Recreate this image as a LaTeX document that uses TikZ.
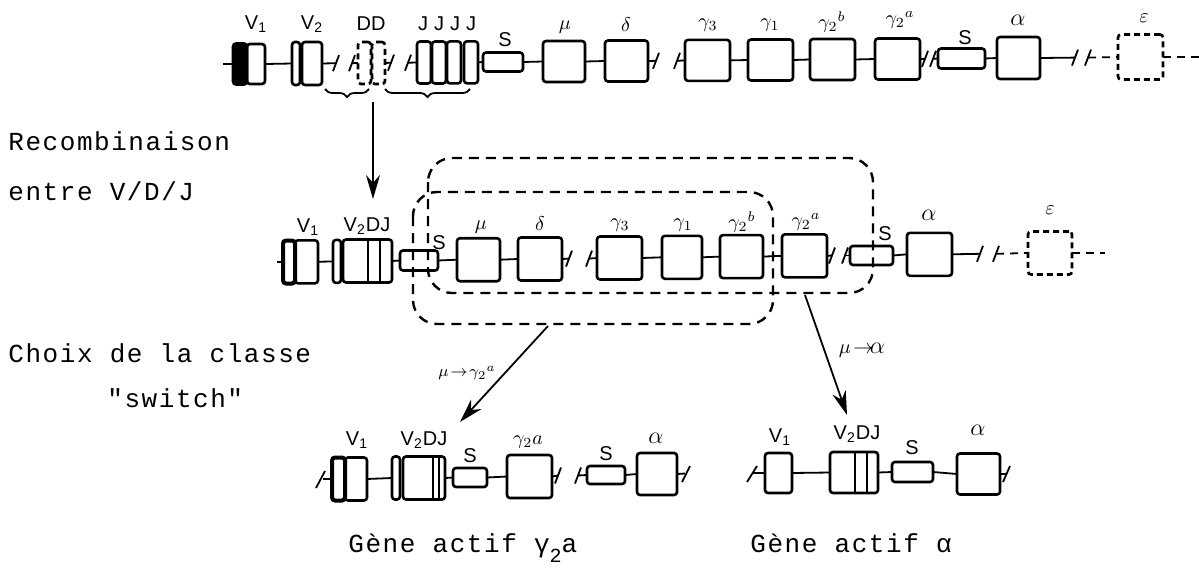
\documentclass[tikz,border=0pt]{standalone}
\usepackage{fontspec}
\setmainfont{Liberation Sans}
\newfontfamily\tw[LetterSpace=6]{Liberation Mono}
\usetikzlibrary{arrows.meta,decorations.pathreplacing}
\tikzset{
 bx/.style 2 args={draw, line width=1.3pt, rounded corners=1.5pt, minimum width=#1*0.5pt, minimum height=#2*0.5pt, inner sep=0pt, outer sep=0pt},
 dbx/.style 2 args={bx={#1}{#2}, dash pattern=on 3pt off 2pt},
 lk/.style={line width=0.9pt},
 dlk/.style={line width=0.9pt, dash pattern=on 4pt off 3pt},
 grp/.style={line width=1.2pt, dash pattern=on 5pt off 3.5pt, rounded corners=12pt},
 arr/.style={line width=0.9pt, -{Stealth[length=12pt,width=7pt]}},
 lab/.style={font=\fontsize{10}{12}\selectfont, inner sep=0pt},
 sm/.style={font=\fontsize{8}{10}\selectfont, inner sep=0pt},
 txt/.style={font=\tw\fontsize{13}{15}\selectfont, inner sep=0pt, anchor=base west},
}
\newcommand\brk[4]{%
  \coordinate (#1a) at (#2,#4);
  \coordinate (#1b) at (#3,#4);
  \draw[lk] ({#2-3},{#4+8}) -- ({#2+3},{#4-8});
  \draw[lk] ({#3-3},{#4+8}) -- ({#3+3},{#4-8});
}
\newcommand\vln[3]{\draw[line width=1.3pt] (#1.north west) ++(#2,0) -- ++(0,#3);}
\begin{document}
\begin{tikzpicture}[x=0.5pt,y=-0.5pt]
\useasboundingbox (0,0) rectangle (1199,568);
% ---------- left texts
\node[txt] (t1) at (8,150) {Recombinaison};
\node[txt] (t2) at (8,200) {entre V/D/J};
\node[txt] (t3) at (8,362) {Choix de la classe};
\node[txt] (t4) at (107,407) {"switch"};
% ---------- top row
\coordinate (t-start) at (223,64);
\node[bx={14}{41}, fill=black] (t-blk) at (240,64) {};
\node[bx={18}{40}] (t-v1) at (256,64) {};
\node[bx={8}{43}] (t-v2n) at (296,63.5) {};
\node[bx={20}{43}] (t-v2) at (312,63.5) {};
\node[dbx={13}{42}] (t-d1) at (364.5,63) {};
\node[dbx={13}{42}] (t-d2) at (378.5,63) {};
\node[bx={14}{42}] (t-j1) at (424,62.5) {};
\node[bx={14}{42}] (t-j2) at (439,62.5) {};
\node[bx={14}{42}] (t-j3) at (454,62.4) {};
\node[bx={14}{42}] (t-j4) at (471,62.3) {};
\node[bx={40}{19}] (t-s1) at (503,62) {};
\node[bx={42}{41}] (t-mu) at (564,61.5) {};
\node[bx={43}{41}] (t-de) at (626.5,61) {};
\node[bx={45}{41}] (t-g3) at (707.5,60.4) {};
\node[bx={45}{41}] (t-g1) at (770.5,60) {};
\node[bx={45}{41}] (t-g2b) at (832.5,59.5) {};
\node[bx={45}{41}] (t-g2a) at (897.5,59) {};
\node[bx={47}{20}] (t-s2) at (961.5,58.5) {};
\node[bx={43}{42}] (t-al) at (1018.5,58) {};
\node[dbx={45}{45}] (t-ep) at (1140.5,57) {};
\coordinate (t-end) at (1199,57);
\draw[lk] (t-start) -- (t-blk.west);
\draw[lk] (t-v1.east) -- (t-v2n.west);
\brk{t-b1}{336}{352}{63.2}
\draw[lk] (t-v2.east) -- (t-b1a);
\draw[lk] (t-b1b) -- (t-d1.west);
\brk{t-b2}{391}{408}{62.7}
\draw[lk] (t-d2.east) -- (t-b2a);
\draw[lk] (t-b2b) -- (t-j1.west);
\draw[lk] (t-j4.east) -- (t-s1.west);
\draw[lk] (t-s1.east) -- (t-mu.west);
\draw[lk] (t-mu.east) -- (t-de.west);
\brk{t-b3}{656}{677}{60.8}
\draw[lk] (t-de.east) -- (t-b3a);
\draw[lk] (t-b3b) -- (t-g3.west);
\draw[lk] (t-g3.east) -- (t-g1.west);
\draw[lk] (t-g1.east) -- (t-g2b.west);
\draw[lk] (t-g2b.east) -- (t-g2a.west);
\brk{t-b4}{925}{933}{58.8}
\draw[lk] (t-g2a.east) -- (t-b4a);
\draw[lk] (t-b4b) -- (t-s2.west);
\draw[lk] (t-s2.east) -- (t-al.west);
\brk{t-b5}{1075}{1088}{57.6}
\draw[lk] (t-al.east) -- (t-b5a);
\draw[dlk] (t-b5b) -- (t-ep.west);
\draw[dlk] (t-ep.east) -- (t-end);
% top labels
\node[lab] (l-tv1) at (256,24) {V\textsubscript{1}};
\node[lab] (l-tv2) at (312,24) {V\textsubscript{2}};
\node[lab] (l-tdd) at (371,24) {DD};
\node[lab] (l-tjj) at (447,24) {J\hspace{3pt}J\hspace{3pt}J\hspace{3pt}J};
\node[lab] (l-ts1) at (505,40) {S};
\node[lab] (l-tmu) at (565,27) {$\mu$};
\node[lab] (l-tde) at (626,25) {$\delta$};
\node[lab] (l-tg3) at (708,25) {$\gamma_3$};
\node[lab] (l-tg1) at (770,25) {$\gamma_1$};
\node[lab] (l-tg2b) at (832,22) {$\gamma_2{}^{b}$};
\node[lab] (l-tg2a) at (900,20) {$\gamma_2{}^{a}$};
\node[lab] (l-ts2) at (965,38) {S};
\node[lab, font=\fontsize{12}{14}\selectfont] (l-tal) at (1018,20) {$\alpha$};
\node[lab] (l-tep) at (1144,18) {$\varepsilon$};
% braces and arrow
\draw[lk, decorate, decoration={brace, mirror, amplitude=4pt}] (325,89) -- (369,89);
\draw[lk, decorate, decoration={brace, mirror, amplitude=4pt}] (385,89) -- (470,89);
\coordinate (dd-src) at (373,102);
\coordinate (dd-tip) at (373,199);
\draw[arr] (dd-src) -- (dd-tip);
% ---------- middle row
\coordinate (m-start) at (277,262);
\node[bx={12}{43}, line width=2pt] (m-v1k) at (289,262) {};
\node[bx={23}{43}] (m-v1) at (306.5,261.8) {};
\node[bx={8}{43}] (m-v2n) at (337,261.4) {};
\node[bx={49}{43}] (m-v2) at (367.5,261) {};
\vln{m-v2}{25}{43}
\vln{m-v2}{37}{43}
\node[bx={38}{20}] (m-s1) at (419,260.5) {};
\node[bx={43}{43}] (m-mu) at (478.5,259.7) {};
\node[bx={44}{43}] (m-de) at (540,259) {};
\node[bx={45}{43}] (m-g3) at (619.5,258) {};
\node[bx={40}{43}] (m-g1) at (682,257.3) {};
\node[bx={43}{43}] (m-g2b) at (741.5,256.6) {};
\node[bx={45}{43}] (m-g2a) at (804.5,255.8) {};
\node[bx={43}{19}] (m-s2) at (871.5,255.5) {};
\node[bx={45}{43}] (m-al) at (929.5,254.3) {};
\node[dbx={44}{43}] (m-ep) at (1050,253) {};
\coordinate (m-end) at (1105,253);
\draw[lk] (m-start) -- (m-v1k.west);
\draw[lk] (m-v1.east) -- (m-v2n.west);
\draw[lk] (m-v2.east) -- (m-s1.west);
\draw[lk] (m-s1.east) -- (m-mu.west);
\draw[lk] (m-mu.east) -- (m-de.west);
\brk{m-b1}{569}{589}{258.6}
\draw[lk] (m-de.east) -- (m-b1a);
\draw[lk] (m-b1b) -- (m-g3.west);
\draw[lk] (m-g3.east) -- (m-g1.west);
\draw[lk] (m-g1.east) -- (m-g2b.west);
\draw[lk] (m-g2b.east) -- (m-g2a.west);
\brk{m-b2}{832}{845}{255.5}
\draw[lk] (m-g2a.east) -- (m-b2a);
\draw[lk] (m-b2b) -- (m-s2.west);
\draw[lk] (m-s2.east) -- (m-al.west);
\brk{m-b3}{980}{996}{253.8}
\draw[lk] (m-al.east) -- (m-b3a);
\draw[dlk] (m-b3b) -- (m-ep.west);
\draw[dlk] (m-ep.east) -- (m-end);
% middle labels
\node[lab] (l-mv1) at (308,227) {V\textsubscript{1}};
\node[lab] (l-mv2) at (367,226) {V\textsubscript{2}DJ};
\node[lab] (l-ms1) at (439,243) {S};
\node[lab] (l-mmu) at (481,227) {$\mu$};
\node[lab] (l-mde) at (540,224) {$\delta$};
\node[lab] (l-mg3) at (620,225) {$\gamma_3$};
\node[lab] (l-mg1) at (683,225) {$\gamma_1$};
\node[lab] (l-mg2b) at (742,222) {$\gamma_2{}^{b}$};
\node[lab] (l-mg2a) at (806,222) {$\gamma_2{}^{a}$};
\node[lab] (l-ms2) at (885,234) {S};
\node[lab, font=\fontsize{12}{14}\selectfont] (l-mal) at (929,215) {$\alpha$};
\node[lab] (l-mep) at (1050,210) {$\varepsilon$};
% dashed groups
\draw[grp] (428,158) rectangle (873,293);
\draw[grp] (413,192) rectangle (773,324);
% switch arrows
\coordinate (sw1-src) at (548,326);
\coordinate (sw1-tip) at (460,422);
\draw[arr] (sw1-src) -- (sw1-tip);
\node[sm] (l-sw1) at (467,373) {$\mu\!\rightarrow\!\gamma_2{}^{a}$};
\coordinate (sw2-src) at (805,295);
\coordinate (sw2-tip) at (847,415);
\draw[arr] (sw2-src) -- (sw2-tip);
\node[lab] (l-sw2) at (862,350) {$\mu\!\rightarrow\!$\fontsize{12}{14}\selectfont$\alpha$};
% ---------- bottom left row
\coordinate (bl-start) at (323,479);
\draw[lk] (316,488) -- (325,471);
\node[bx={13}{43}, line width=2pt] (bl-v1k) at (338.5,479) {};
\node[bx={22}{43}] (bl-v1) at (356,479) {};
\node[bx={8}{43}] (bl-v2n) at (396,478) {};
\node[bx={42}{43}] (bl-v2) at (424,478) {};
\vln{bl-v2}{30}{43}
\vln{bl-v2}{36}{43}
\node[bx={34}{19}] (bl-s1) at (470,477.5) {};
\node[bx={45}{43}] (bl-g2a) at (529.5,476.5) {};
\node[bx={38}{18}] (bl-s2) at (606,475) {};
\node[bx={40}{42}] (bl-al) at (657,474) {};
\coordinate (bl-end) at (685,473.5);
\draw[lk] (bl-start) -- (bl-v1k.west);
\draw[lk] (bl-v1.east) -- (bl-v2n.west);
\draw[lk] (bl-v2.east) -- (bl-s1.west);
\draw[lk] (bl-s1.east) -- (bl-g2a.west);
\brk{bl-b1}{558}{578}{475.5}
\draw[lk] (bl-g2a.east) -- (bl-b1a);
\draw[lk] (bl-b1b) -- (bl-s2.west);
\draw[lk] (bl-s2.east) -- (bl-al.west);
\draw[lk] (bl-al.east) -- (bl-end);
\draw[lk] (682,482) -- (690,466);
\node[lab] (l-blv1) at (357,440) {V\textsubscript{1}};
\node[lab] (l-blv2) at (424,440) {V\textsubscript{2}DJ};
\node[lab] (l-bls1) at (470,456) {S};
\node[lab] (l-blg) at (528,442) {$\gamma_2a$};
\node[lab] (l-bls2) at (606,454) {S};
\node[lab, font=\fontsize{12}{14}\selectfont] (l-blal) at (656,438) {$\alpha$};
% ---------- bottom right row
\coordinate (br-start) at (753,473);
\draw[lk] (747,482) -- (757,466);
\node[bx={27}{40}] (br-v1) at (778.5,473) {};
\node[bx={48}{41}] (br-v2) at (854,472.5) {};
\vln{br-v2}{25}{41}
\vln{br-v2}{37}{41}
\node[bx={41}{20}] (br-s1) at (912.5,472) {};
\node[bx={43}{41}] (br-al) at (978.5,474) {};
\coordinate (br-end) at (1006,474);
\draw[lk] (br-start) -- (br-v1.west);
\draw[lk] (br-v1.east) -- (br-v2.west);
\draw[lk] (br-v2.east) -- (br-s1.west);
\draw[lk] (br-s1.east) -- (br-al.west);
\draw[lk] (br-al.east) -- (br-end);
\draw[lk] (1003,482) -- (1010,466);
\node[lab] (l-brv1) at (780,437) {V\textsubscript{1}};
\node[lab] (l-brv2) at (857,434) {V\textsubscript{2}DJ};
\node[lab] (l-brs1) at (912,448) {S};
\node[lab, font=\fontsize{12}{14}\selectfont] (l-bral) at (978,430) {$\alpha$};
% ---------- bottom texts
\node[txt] (t5) at (348,552) {Gène actif γ\raisebox{-5pt}{\fontsize{10}{10}\selectfont 2}a};
\node[txt] (t6) at (750,552) {Gène actif α};
\end{tikzpicture}
\end{document}
